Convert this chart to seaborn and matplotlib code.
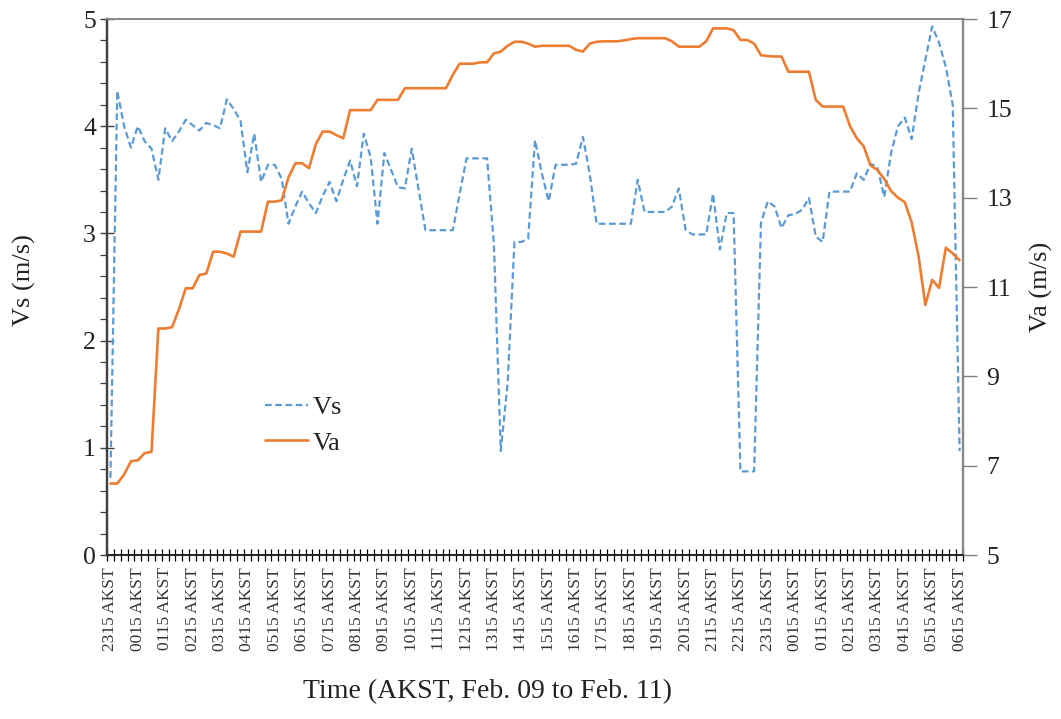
import numpy as np
import pandas as pd
import matplotlib
matplotlib.use("Agg")
import matplotlib.pyplot as plt
import seaborn as sns
from matplotlib.ticker import MultipleLocator, FixedLocator

# ---------------- data (15-min samples, 2315 AKST Feb 09 -> 0615 AKST Feb 11) -------------
time_labels = ["2315 AKST", "0015 AKST", "0115 AKST", "0215 AKST", "0315 AKST", "0415 AKST",
               "0515 AKST", "0615 AKST", "0715 AKST", "0815 AKST", "0915 AKST", "1015 AKST",
               "1115 AKST", "1215 AKST", "1315 AKST", "1415 AKST", "1515 AKST", "1615 AKST",
               "1715 AKST", "1815 AKST", "1915 AKST", "2015 AKST", "2115 AKST", "2215 AKST",
               "2315 AKST", "0015 AKST", "0115 AKST", "0215 AKST", "0315 AKST", "0415 AKST",
               "0515 AKST", "0615 AKST"]

vs = [0.72, 4.33, 4.00, 3.80, 4.00, 3.86, 3.79, 3.50, 3.98, 3.86,
      3.95, 4.06, 4.01, 3.96, 4.03, 4.01, 3.98, 4.25, 4.16, 4.05,
      3.57, 3.93, 3.48, 3.64, 3.64, 3.51, 3.09, 3.25, 3.39, 3.28,
      3.19, 3.35, 3.48, 3.30, 3.50, 3.68, 3.44, 3.93, 3.71, 3.09,
      3.75, 3.59, 3.43, 3.42, 3.79, 3.41, 3.03, 3.03, 3.03, 3.03,
      3.03, 3.37, 3.70, 3.70, 3.70, 3.70, 2.90, 0.97, 1.60, 2.92,
      2.92, 2.95, 3.87, 3.56, 3.30, 3.64, 3.64, 3.64, 3.65, 3.90,
      3.55, 3.09, 3.09, 3.09, 3.09, 3.09, 3.09, 3.50, 3.20, 3.20,
      3.20, 3.20, 3.25, 3.42, 3.03, 2.99, 2.99, 2.99, 3.37, 2.85,
      3.19, 3.19, 0.78, 0.78, 0.78, 3.10, 3.30, 3.25, 3.05, 3.17,
      3.18, 3.22, 3.33, 2.97, 2.92, 3.39, 3.39, 3.39, 3.39, 3.56,
      3.50, 3.65, 3.62, 3.34, 3.75, 4.00, 4.08, 3.88, 4.30, 4.62,
      4.93, 4.78, 4.55, 4.20, 0.97]

va = [6.60, 6.60, 6.80, 7.10, 7.12, 7.28, 7.31, 10.07, 10.07, 10.10,
      10.50, 10.97, 10.97, 11.27, 11.30, 11.79, 11.79, 11.75, 11.68, 12.24,
      12.24, 12.24, 12.24, 12.91, 12.91, 12.94, 13.45, 13.77, 13.77, 13.66,
      14.20, 14.48, 14.48, 14.40, 14.33, 14.96, 14.96, 14.96, 14.96, 15.19,
      15.19, 15.19, 15.19, 15.45, 15.45, 15.45, 15.45, 15.45, 15.45, 15.45,
      15.75, 16.00, 16.00, 16.00, 16.03, 16.03, 16.23, 16.27, 16.40, 16.49,
      16.49, 16.45, 16.38, 16.40, 16.40, 16.40, 16.40, 16.40, 16.31, 16.27,
      16.45, 16.49, 16.50, 16.50, 16.50, 16.52, 16.55, 16.57, 16.57, 16.57,
      16.57, 16.57, 16.50, 16.38, 16.38, 16.38, 16.38, 16.50, 16.79, 16.79,
      16.79, 16.75, 16.53, 16.53, 16.45, 16.19, 16.17, 16.16, 16.16, 15.82,
      15.82, 15.82, 15.82, 15.19, 15.04, 15.04, 15.04, 15.04, 14.60, 14.33,
      14.15, 13.72, 13.62, 13.42, 13.15, 13.00, 12.90, 12.45, 11.70, 10.60,
      11.16, 10.98, 11.88, 11.75, 11.60]

vs_color = "#5B9BD5"
va_color = "#ED7D31"

# ---------------- figure -----------------
sns.set_theme(style="white")
plt.rcParams['font.family'] = ['Liberation Serif', 'DejaVu Serif']

df = pd.DataFrame({"idx": np.arange(len(vs)), "Vs": vs, "Va": va})

fig = plt.figure(figsize=(10.61, 7.19), dpi=100)
ax = fig.add_axes([107 / 1061, 1 - 555 / 719, 856 / 1061, 536 / 719])
ax2 = ax.twinx()

sns.lineplot(data=df, x="idx", y="Vs", ax=ax, color=vs_color, linewidth=1.6,
             linestyle=(0, (3, 1.6)), estimator=None, sort=False, legend=False)
sns.lineplot(data=df, x="idx", y="Va", ax=ax2, color=va_color, linewidth=1.9,
             estimator=None, sort=False, legend=False)

ax.set_xlim(-0.5, len(vs) - 0.5)
ax.set_ylim(0, 5)
ax2.set_ylim(5, 17)

# x ticks
ax.set_xticks(np.arange(0, len(vs), 4))
ax.set_xticklabels(time_labels, rotation=90, fontsize=12.5)
ax.xaxis.set_minor_locator(FixedLocator(np.arange(-0.5, len(vs), 1)))
ax.tick_params(axis='x', which='major', bottom=True, length=0, pad=9, colors='#333333')
ax.tick_params(axis='x', which='minor', bottom=True, direction='inout', length=8,
               width=0.9, color='black')

# left y ticks
ax.set_yticks(range(0, 6))
ax.yaxis.set_minor_locator(MultipleLocator(0.2))
ax.tick_params(axis='y', which='major', left=True, direction='inout', length=10,
               width=1.0, labelsize=18.5, pad=3, color='#404040', labelcolor='#222222')
ax.tick_params(axis='y', which='minor', left=True, direction='out', length=5,
               width=0.9, color='#404040')

# right y ticks
ax2.set_yticks(range(5, 18, 2))
ax2.tick_params(axis='y', which='major', right=True, direction='out', length=10,
                width=1.0, labelsize=18.5, pad=7, color='#808080', labelcolor='#222222')
ax2.tick_params(axis='y', which='minor', right=False)

# spines
for a in (ax, ax2):
    a.spines['top'].set_color('#8a8a8a')
    a.spines['top'].set_linewidth(1.4)
    a.spines['right'].set_color('#8a8a8a')
    a.spines['right'].set_linewidth(1.6)
    a.spines['left'].set_color('#404040')
    a.spines['left'].set_linewidth(1.6)
    a.spines['bottom'].set_color('#222222')
    a.spines['bottom'].set_linewidth(1.2)

# labels
ax.set_xlabel("Time (AKST, Feb. 09 to Feb. 11)", fontsize=20, color='#222222')
ax.xaxis.set_label_coords(0.444, -0.232)
ax.set_ylabel("Vs (m/s)", fontsize=19, color='#222222')
ax.yaxis.set_label_coords(-0.083, 0.513)
ax2.set_ylabel("Va (m/s)", fontsize=19, color='#222222')
ax2.yaxis.set_label_coords(1.078, 0.5)

# legend
h1 = ax.lines[0]
h2 = ax2.lines[0]
leg = ax2.legend([h1, h2], ["Vs", "Va"], loc='upper left', bbox_to_anchor=(0.185, 0.297),
                 frameon=False, fontsize=19, handlelength=1.6, handletextpad=0.2,
                 labelspacing=0.45, borderpad=0, borderaxespad=0)
for t in leg.get_texts():
    t.set_color('#222222')

fig.savefig("out.png", dpi=100)
